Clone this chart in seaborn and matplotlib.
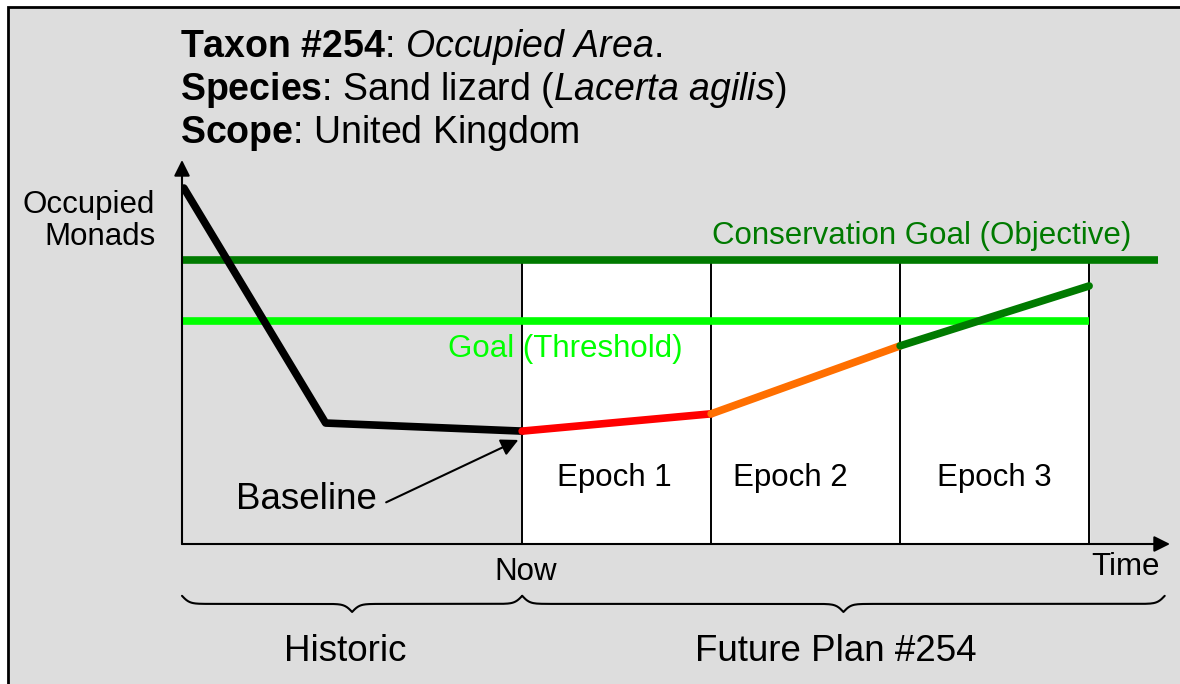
import numpy as np
import pandas as pd
import matplotlib
matplotlib.use("Agg")
import matplotlib.pyplot as plt
import seaborn as sns
from matplotlib.patches import Rectangle

# time axis: 0 = now, one unit per epoch; values in arbitrary "monads" units
hist_t = [-1.79, -1.04, 0.0]
hist_v = [92.7, 31.5, 29.4]
plan_t = [0.0, 1.0, 2.0, 3.0]
plan_v = [29.4, 33.9, 51.6, 67.2]
epoch_edges = [0, 1, 2, 3]
epoch_labels = ["Epoch 1", "Epoch 2", "Epoch 3"]
epoch_label_x = [0.49, 1.42, 2.5]
goal_objective = 74.0
goal_threshold = 58.1
seg_names = ["Historic", "Epoch 1", "Epoch 2", "Epoch 3"]
seg_colors = ["black", "#ff0000", "#ff6f00", "#007a00"]

DARK_GREEN = "#007a00"
LIME = "#00ff00"

sns.set_style("white")
plt.rcParams["font.family"] = ["Liberation Sans", "DejaVu Sans"]
plt.rcParams["text.color"] = "black"
plt.rcParams["mathtext.fontset"] = "custom"
plt.rcParams["mathtext.rm"] = "Liberation Sans"
plt.rcParams["mathtext.bf"] = "Liberation Sans:bold"
plt.rcParams["mathtext.it"] = "Liberation Sans:italic"

# build segment table for seaborn
rows = []
for t, v in zip(hist_t, hist_v):
    rows.append(("Historic", t, v))
for i in range(3):
    rows.append((seg_names[i + 1], plan_t[i], plan_v[i]))
    rows.append((seg_names[i + 1], plan_t[i + 1], plan_v[i + 1]))
df = pd.DataFrame(rows, columns=["seg", "t", "v"])

fig = plt.figure(figsize=(11.8, 6.84), dpi=100, facecolor="white")
fig.patches.append(Rectangle((8 / 1180, -0.5), 2.0, 1 - 7 / 684 + 0.5,
                             transform=fig.transFigure, facecolor="#dddddd",
                             edgecolor="black", lw=2, zorder=-1))

ax = fig.add_axes([182 / 1180, 140 / 684, 988 / 1180, 384 / 684])
ax.set_facecolor("none")
ax.set_xlim(-1.8, 3.428)
ax.set_ylim(0, 100)
ax.axis("off")

# future plan area
ax.fill_between([epoch_edges[0], epoch_edges[-1]], 0, goal_objective, color="white", zorder=0.5)
ax.vlines(epoch_edges, 0, goal_objective, color="black", lw=1.4, zorder=1)

# goal lines
ax.plot([-1.8, 3.365], [goal_objective] * 2, color=DARK_GREEN, lw=5.5, solid_capstyle="butt", zorder=2)
ax.plot([-1.8, 3.0], [goal_threshold] * 2, color=LIME, lw=5.5, solid_capstyle="butt", zorder=2)

sns.lineplot(data=df, x="t", y="v", hue="seg", palette=dict(zip(seg_names, seg_colors)),
             sort=False, estimator=None, legend=False, lw=5.5, ax=ax, zorder=3)

# axes arrows
arrow = dict(arrowstyle="-|>", color="black", lw=1.5, mutation_scale=24, shrinkA=0, shrinkB=0)
ax.annotate("", xy=(3.428, 0), xytext=(-1.8, 0), arrowprops=arrow, annotation_clip=False)
ax.annotate("", xy=(-1.8, 100), xytext=(-1.8, 0), arrowprops=arrow, annotation_clip=False)

# labels
ax.text(1.005, 80.2, "Conservation Goal (Objective)", color=DARK_GREEN, fontsize=22.5, va="center", ha="left")
ax.text(-0.392, 50.8, "Goal (Threshold)", color=LIME, fontsize=22.5, va="center", ha="left")
for x, lab in zip(epoch_label_x, epoch_labels):
    ax.text(x, 17.2, lab, fontsize=22.5, ha="center", va="center")
ax.text(0.016, -7.3, "Now", fontsize=22.5, ha="center", va="center")
ax.text(3.19, -6.0, "Time", fontsize=22.5, ha="center", va="center")
ax.text(-1.942, 84.1, "Occupied\nMonads", fontsize=22.5, ha="right", va="center",
        multialignment="right", linespacing=1.1)
ax.annotate("Baseline", xy=(-0.02, 27.1), xytext=(-1.143, 11.5), fontsize=26.5,
            ha="center", va="center",
            arrowprops=dict(arrowstyle="-|>", color="black", lw=1.5, mutation_scale=26,
                            shrinkA=5, shrinkB=0, relpos=(1, 0.3)))


def brace(ax, x0, x1, y, h, beta=50):
    half = np.linspace(0, (x1 - x0) / 2, 200)
    c = 1 / (1 + np.exp(-beta * (half - half[0]))) + 1 / (1 + np.exp(-beta * (half - half[-1])))
    c = np.concatenate([c, c[::-1][1:]])
    xs = np.linspace(x0, x1, len(c))
    ys = y - (c - c.min()) / (c.max() - c.min()) * h
    ax.plot(xs, ys, color="black", lw=1.5, clip_on=False)


brace(ax, -1.8, 0.0, -13.5, 4.2)
brace(ax, 0.0, 3.40, -13.5, 4.2)
ax.text(-0.937, -27.9, "Historic", fontsize=26.5, ha="center", va="center")
ax.text(1.661, -27.9, "Future Plan #254", fontsize=26.5, ha="center", va="center")

# title block
title_lines = [
    r"$\mathbf{Taxon\ \#254}$: $\mathit{Occupied\ Area}$.",
    r"$\mathbf{Species}$: Sand lizard ($\mathit{Lacerta\ agilis}$)",
    r"$\mathbf{Scope}$: United Kingdom",
]
for i, line in enumerate(title_lines):
    fig.text(180 / 1180, 1 - (57 + 43 * i) / 684, line, fontsize=27, ha="left", va="baseline")

fig.savefig("out.png", dpi=100)
